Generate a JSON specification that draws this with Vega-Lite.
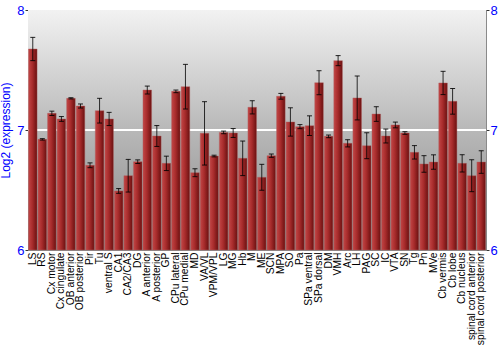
{
  "$schema": "https://vega.github.io/schema/vega-lite/v6.json",
  "width": 458,
  "height": 240,
  "autosize": {"type": "none"},
  "padding": {"left": 28, "top": 10, "right": 14, "bottom": 100},
  "background": "white",
  "config": {
    "view": {"stroke": "#8a8a8a", "strokeWidth": 1},
    "font": "Liberation Sans"
  },
  "data": {
    "values": [
      {"region": "LS", "mean": 7.675, "lo": 7.578, "hi": 7.772},
      {"region": "RS", "mean": 6.922, "lo": 6.916, "hi": 6.928},
      {"region": "Cx motor", "mean": 7.139, "lo": 7.121, "hi": 7.157},
      {"region": "Cx cingulate", "mean": 7.092, "lo": 7.072, "hi": 7.112},
      {"region": "OB anterior", "mean": 7.264, "lo": 7.259, "hi": 7.269},
      {"region": "OB posterior", "mean": 7.2, "lo": 7.183, "hi": 7.217},
      {"region": "Pir", "mean": 6.706, "lo": 6.686, "hi": 6.726},
      {"region": "Tu", "mean": 7.161, "lo": 7.058, "hi": 7.264},
      {"region": "ventral S", "mean": 7.092, "lo": 7.037, "hi": 7.147},
      {"region": "CA1", "mean": 6.492, "lo": 6.472, "hi": 6.512},
      {"region": "CA2/CA3", "mean": 6.619, "lo": 6.483, "hi": 6.755},
      {"region": "DG", "mean": 6.736, "lo": 6.721, "hi": 6.751},
      {"region": "A anterior", "mean": 7.333, "lo": 7.3, "hi": 7.366},
      {"region": "A posterior", "mean": 6.95, "lo": 6.863, "hi": 7.037},
      {"region": "GP", "mean": 6.722, "lo": 6.662, "hi": 6.782},
      {"region": "CPu lateral", "mean": 7.322, "lo": 7.311, "hi": 7.333},
      {"region": "CPu medial", "mean": 7.361, "lo": 7.175, "hi": 7.547},
      {"region": "MD", "mean": 6.644, "lo": 6.611, "hi": 6.677},
      {"region": "VA/VL", "mean": 6.972, "lo": 6.708, "hi": 7.236},
      {"region": "VPM/VPL", "mean": 6.783, "lo": 6.776, "hi": 6.79},
      {"region": "LG", "mean": 6.98, "lo": 6.969, "hi": 6.991},
      {"region": "MG", "mean": 6.975, "lo": 6.938, "hi": 7.012},
      {"region": "Hb", "mean": 6.764, "lo": 6.62, "hi": 6.908},
      {"region": "M", "mean": 7.189, "lo": 7.134, "hi": 7.244},
      {"region": "ME", "mean": 6.606, "lo": 6.498, "hi": 6.714},
      {"region": "SCN", "mean": 6.786, "lo": 6.772, "hi": 6.8},
      {"region": "MPA", "mean": 7.281, "lo": 7.257, "hi": 7.305},
      {"region": "SO", "mean": 7.067, "lo": 6.949, "hi": 7.185},
      {"region": "Pa", "mean": 7.028, "lo": 7.011, "hi": 7.045},
      {"region": "SPa ventral", "mean": 7.036, "lo": 6.954, "hi": 7.118},
      {"region": "SPa dorsal", "mean": 7.394, "lo": 7.294, "hi": 7.494},
      {"region": "DM", "mean": 6.947, "lo": 6.936, "hi": 6.958},
      {"region": "VMH", "mean": 7.578, "lo": 7.536, "hi": 7.62},
      {"region": "Arc", "mean": 6.889, "lo": 6.859, "hi": 6.919},
      {"region": "LH", "mean": 7.267, "lo": 7.084, "hi": 7.45},
      {"region": "PAG", "mean": 6.869, "lo": 6.761, "hi": 6.977},
      {"region": "SC", "mean": 7.133, "lo": 7.072, "hi": 7.194},
      {"region": "IC", "mean": 6.95, "lo": 6.892, "hi": 7.008},
      {"region": "VTA", "mean": 7.042, "lo": 7.018, "hi": 7.066},
      {"region": "SN", "mean": 6.975, "lo": 6.964, "hi": 6.986},
      {"region": "Tg", "mean": 6.814, "lo": 6.758, "hi": 6.87},
      {"region": "Pn", "mean": 6.717, "lo": 6.648, "hi": 6.786},
      {"region": "MVe", "mean": 6.733, "lo": 6.673, "hi": 6.793},
      {"region": "Cb vermis", "mean": 7.392, "lo": 7.295, "hi": 7.489},
      {"region": "Cb lobe", "mean": 7.239, "lo": 7.132, "hi": 7.346},
      {"region": "Cb nucleus", "mean": 6.722, "lo": 6.65, "hi": 6.794},
      {"region": "spinal cord anterior", "mean": 6.619, "lo": 6.486, "hi": 6.752},
      {"region": "spinal cord posterior", "mean": 6.733, "lo": 6.639, "hi": 6.827}
    ]
  },
  "layer": [
    {
      "mark": {
        "type": "rect",
        "fill": {
          "gradient": "linear", "x1": 0, "x2": 0, "y1": 0, "y2": 1,
          "stops": [
            {"offset": 0, "color": "#f2f2f2"},
            {"offset": 0.5, "color": "#b8b8b8"},
            {"offset": 1, "color": "#888888"}
          ]
        }
      },
      "encoding": {
        "y": {"datum": 8, "type": "quantitative", "scale": {"domain": [6, 8], "zero": false, "nice": false}, "axis": null},
        "y2": {"datum": 6}
      }
    },
    {
      "mark": {"type": "rule", "color": "white", "strokeWidth": 1.5},
      "encoding": {
        "y": {
          "datum": 7, "type": "quantitative",
          "axis": {
            "orient": "right", "title": null, "tickCount": 2, "format": "d", "labelOverlap": false,
            "labelColor": "blue", "labelFontSize": 13, "tickColor": "#333",
            "tickSize": 3, "domainColor": "#8a8a8a", "grid": false, "labelPadding": 1
          }
        }
      }
    },
    {
      "mark": {
        "type": "bar",
        "fill": {
          "gradient": "linear", "x1": 0, "x2": 1, "y1": 0, "y2": 0,
          "stops": [
            {"offset": 0, "color": "#c24646"},
            {"offset": 0.45, "color": "#a82c2c"},
            {"offset": 1, "color": "#6a1010"}
          ]
        },
        "stroke": "#b06060",
        "strokeWidth": 0.6,
        "strokeOpacity": 0.7
      },
      "encoding": {
        "x": {
          "field": "region", "type": "nominal", "sort": null,
          "scale": {"paddingInner": 0.1, "paddingOuter": 0.05},
          "axis": {
            "title": null, "labelAngle": -90, "labelFontSize": 10.3,
            "ticks": false, "domain": false, "labelPadding": 2, "labelColor": "black"
          }
        },
        "y": {
          "field": "mean", "type": "quantitative",
          "axis": {
            "orient": "left", "title": "Log2 (expression)", "titleColor": "blue",
            "titleFontSize": 12, "titleFontWeight": "normal", "titlePadding": 4,
            "tickCount": 2, "format": "d", "labelOverlap": false, "labelColor": "blue", "labelFontSize": 13,
            "tickColor": "#333", "tickSize": 3, "domainColor": "#8a8a8a",
            "grid": false, "labelPadding": 1
          }
        },
        "y2": {"datum": 6}
      }
    },
    {
      "mark": {"type": "rule", "color": "black", "opacity": 0.8},
      "encoding": {
        "x": {"field": "region", "type": "nominal", "sort": null},
        "y": {"field": "lo", "type": "quantitative", "axis": null},
        "y2": {"field": "hi"}
      }
    },
    {
      "mark": {"type": "tick", "color": "black", "size": 5, "thickness": 1, "opacity": 0.85},
      "encoding": {
        "x": {"field": "region", "type": "nominal", "sort": null},
        "y": {"field": "lo", "type": "quantitative", "axis": null}
      }
    },
    {
      "mark": {"type": "tick", "color": "black", "size": 5, "thickness": 1, "opacity": 0.85},
      "encoding": {
        "x": {"field": "region", "type": "nominal", "sort": null},
        "y": {"field": "hi", "type": "quantitative", "axis": null}
      }
    }
  ],
  "resolve": {"axis": {"y": "independent"}}
}
